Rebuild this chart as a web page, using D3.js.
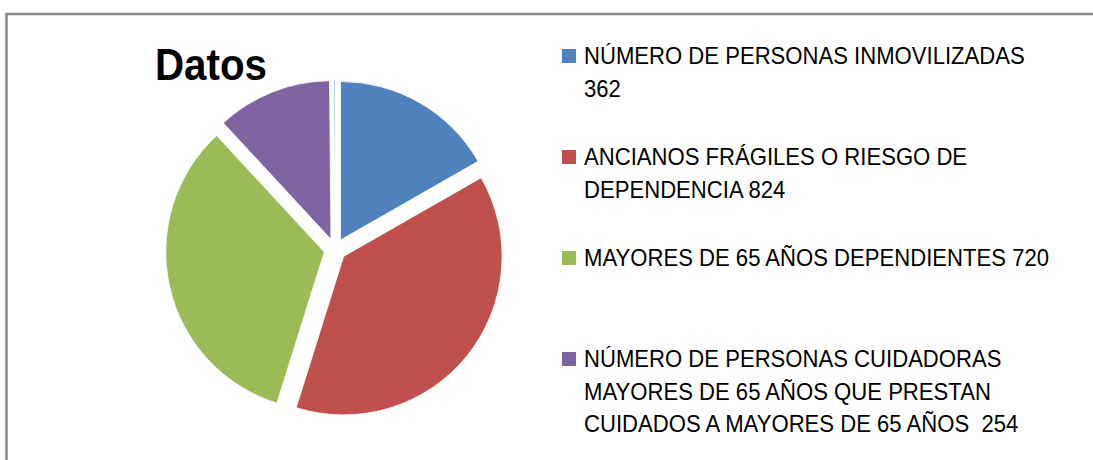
<!DOCTYPE html>
<html>
<head>
<meta charset="utf-8">
<script src="https://cdn.jsdelivr.net/npm/d3@7"></script>
<style>
  html, body { margin: 0; padding: 0; background: #fff; }
  svg { display: block; }
  text { white-space: pre; }
</style>
</head>
<body>
<svg id="chart" width="1093" height="460"></svg>
<script>
// ---- data ----
const title = "Datos";
const categories = [
  "NÚMERO DE PERSONAS INMOVILIZADAS\n362",
  "ANCIANOS FRÁGILES O RIESGO DE\nDEPENDENCIA 824",
  "MAYORES DE 65 AÑOS DEPENDIENTES 720",
  "NÚMERO DE PERSONAS CUIDADORAS\nMAYORES DE 65 AÑOS QUE PRESTAN\nCUIDADOS A MAYORES DE 65 AÑOS  254",
  ""
];
const values = [362, 824, 720, 254, 3];
const colors = ["#4F81BD", "#C0504D", "#9BBB59", "#8064A2", "#4BACC6"];

// ---- layout ----
const svg = d3.select("#chart");
svg.append("rect").attr("x", 0).attr("y", 0).attr("width", 1093).attr("height", 460).attr("fill", "#fff");
// chart frame
svg.append("rect")
  .attr("x", 6.5).attr("y", 14).attr("width", 1200).attr("height", 600)
  .attr("fill", "none").attr("stroke", "#868686").attr("stroke-width", 2.5);

const cx = 335, cy = 249.5, R = 158.5, explode = 11;
const data = categories.map((c, i) => ({ name: c, value: values[i], color: colors[i] }));
const pie = d3.pie().sort(null).value(d => d.value);
const arc = d3.arc().innerRadius(0).outerRadius(R);

const g = svg.append("g").attr("transform", `translate(${cx},${cy})`);
g.selectAll("path").data(pie(data)).join("path")
  .attr("d", arc)
  .attr("fill", d => d.data.color)
  .attr("stroke", "#fff")
  .attr("stroke-width", 0.8)
  .attr("transform", d => {
    const m = (d.startAngle + d.endAngle) / 2;
    return `translate(${Math.sin(m) * explode},${-Math.cos(m) * explode})`;
  });

// title
const t = svg.append("text")
  .attr("x", 0).attr("y", 0)
  .attr("font-family", "Liberation Sans, Arial, sans-serif")
  .attr("font-weight", "bold")
  .attr("font-size", 44)
  .attr("fill", "#000")
  .text(title);
const tw = t.node().getComputedTextLength();
t.attr("transform", `translate(155,80) scale(${112 / tw},1)`);

// legend
const legendData = data.filter(d => d.name !== "");
const leg = svg.append("g");
const fontSize = 24;
let sx = 1;
legendData.forEach((d, i) => {
  const base = 64 + 101 * i;
  leg.append("rect")
    .attr("x", 562).attr("y", base - 15).attr("width", 14).attr("height", 14)
    .attr("fill", d.color);
  const lines = d.name.split("\n");
  lines.forEach((ln, j) => {
    leg.append("text")
      .attr("class", "lt")
      .attr("data-x", 584)
      .attr("data-y", base + j * 32.5)
      .attr("font-family", "Liberation Sans, Arial, sans-serif")
      .attr("font-size", fontSize)
      .attr("fill", "#000")
      .text(ln);
  });
});
const first = leg.select("text.lt").node();
sx = 441 / first.getComputedTextLength();
leg.selectAll("text.lt").each(function () {
  const s = d3.select(this);
  s.attr("transform", `translate(${s.attr("data-x")},${s.attr("data-y")}) scale(${sx},1)`);
});
</script>
</body>
</html>
